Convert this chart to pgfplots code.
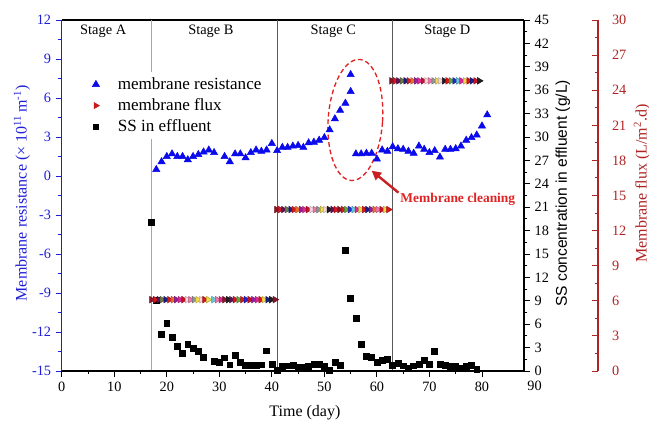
\documentclass[border=0pt]{standalone}
\usepackage{fontspec}
\setmainfont{Liberation Serif}
\setsansfont{Liberation Sans}
\usepackage{pgfplots}
\pgfplotsset{compat=1.18}
\usetikzlibrary{arrows.meta}

\definecolor{resblue}{RGB}{30,30,215}
\definecolor{markblue}{RGB}{10,10,235}
\definecolor{fluxax}{RGB}{175,35,35}
\definecolor{annred}{RGB}{225,35,35}
\definecolor{legred}{RGB}{200,25,25}
% colours that the flux markers cycle through
\definecolor{f0}{RGB}{140,20,40}
\definecolor{f1}{RGB}{220,20,30}
\definecolor{f2}{RGB}{90,20,90}
\definecolor{f3}{RGB}{110,120,70}
\definecolor{f4}{RGB}{30,30,130}
\definecolor{f5}{RGB}{210,30,30}
\definecolor{f6}{RGB}{235,110,40}
\definecolor{f7}{RGB}{150,30,160}
\definecolor{f8}{RGB}{220,40,150}
\definecolor{f9}{RGB}{200,20,40}
\definecolor{f10}{RGB}{245,215,225}
\definecolor{f11}{RGB}{240,120,170}
\definecolor{f12}{RGB}{150,150,150}
\definecolor{f13}{RGB}{240,220,70}
\definecolor{f14}{RGB}{30,30,30}
\definecolor{f15}{RGB}{90,170,60}
\definecolor{f16}{RGB}{40,40,210}
\definecolor{f17}{RGB}{100,200,220}

\newcommand\tk{\fontsize{10.7}{12}\selectfont}
\newcommand\lab{\fontsize{12}{14}\selectfont}

\begin{document}
\begin{tikzpicture}
\useasboundingbox (-46.3pt,-38.25pt) rectangle (440.45pt,278.25pt);

% membrane resistance, left axis
\begin{axis}[
    scale only axis, width=346.7pt, height=263.25pt,
    xmin=0, xmax=88, ymin=-15, ymax=12,
    axis x line*=top, axis y line*=left,
    x axis line style={-, black, line width=0.8pt},
    y axis line style={-, resblue, line width=0.8pt},
    xtick=\empty,
    ytick={-15,-12,...,12}, minor y tick num=1,
    tick align=outside, major tick length=4.5pt, minor tick length=2.5pt,
    tick style={resblue, line width=0.7pt},
    yticklabel style={font=\tk, resblue},
    /pgf/number format/assume math mode=true,
    ylabel={Membrane resistance (\texttimes{} 10\textsuperscript{11}\,m\textsuperscript{-1})},
    ylabel style={at={(axis description cs:-0.086,0.506)}, anchor=center, font=\lab, resblue},
    legend style={at={(axis description cs:0.057,0.852)}, anchor=north west, draw=none,
        fill=white, font=\fontsize{12.8}{15}\selectfont, row sep=1.4pt},
    legend cell align=left,
    legend image code/.code={
        \draw[mark repeat=2, mark phase=2, #1] plot coordinates {(0cm,0cm) (0.3cm,0cm) (0.6cm,0cm)};
        \path (0.8cm,0cm);},
]
\addplot[gray!70, line width=0.7pt, forget plot] coordinates {(17,-15) (17,12)};
\addplot[black!65, line width=0.7pt, forget plot] coordinates {(41,-15) (41,12)};
\addplot[black!65, line width=0.7pt, forget plot] coordinates {(63,-15) (63,12)};

\addplot[only marks, mark=triangle*, mark size=3.1pt, color=markblue] coordinates {
(18,0.5) (19,1.1) (20,1.5) (21,1.7) (22,1.5) (23,1.5) (24,1.25) (25,1.5)
(26,1.65) (27,1.85) (28,2.0) (29,1.8) (31,1.5) (32,1.1) (33,1.7) (34,1.7)
(35,1.4) (36,1.8) (37,2.0) (38,1.9) (39,2.0) (40,2.5) (41,1.95) (42,2.2)
(43,2.2) (44,2.3) (45,2.35) (46,2.2) (47,2.55) (48,2.6) (49,2.75) (50,2.95)
(51,3.55) (52,4.4) (53,5.05) (54,5.6) (55,6.5) (55,7.8) (56,1.7) (57,1.7)
(58,1.75) (59,1.75) (60,1.3) (61,2.0) (62,1.9) (63,2.25) (64,2.1) (65,2.05)
(66,1.9) (67,1.75) (68,2.3) (69,2.05) (70,1.8) (71,1.95) (72,1.45) (73,2.05)
(74,2.05) (75,2.1) (76,2.3) (77,2.75) (78,2.95) (79,3.15) (80,3.85) (81,4.7)
};
\addlegendentry{membrane resistance}
\addlegendimage{only marks, mark=triangle*, mark size=2.6pt, mark options={rotate=-90}, color=legred}
\addlegendentry{membrane flux}
\addlegendimage{only marks, mark=square*, mark size=2pt, black}
\addlegendentry{SS in effluent}

\node[font=\fontsize{10.8}{12}\selectfont] at (axis cs:7.9,11.1) {Stage A};
\node[font=\fontsize{10.8}{12}\selectfont] at (axis cs:28.4,11.1) {Stage B};
\node[font=\fontsize{10.8}{12}\selectfont] at (axis cs:51.7,11.1) {Stage C};
\node[font=\fontsize{10.8}{12}\selectfont] at (axis cs:73.4,11.1) {Stage D};

\draw[annred, line width=1pt, dash pattern=on 3.5pt off 2.2pt, rotate around={-4:(axis cs:55.9,4.31)}]
    (axis cs:55.9,4.31) ellipse [x radius=20.4pt, y radius=45.5pt];
\draw[annred!90!black, line width=1.8pt, -{Triangle[length=7pt,width=7pt]}]
    (axis cs:64.1,-1.28) -- (axis cs:59.0,0.41);
\node[annred, font=\bfseries\fontsize{10.1}{11}\selectfont] at (axis cs:75.4,-1.77) {Membrane cleaning};
\end{axis}

% SS in effluent, first right axis, and the time axis
\begin{axis}[
    scale only axis, width=346.7pt, height=263.25pt,
    xmin=0, xmax=88, ymin=0, ymax=45,
    axis x line*=bottom, axis y line*=right,
    x axis line style={-, black, line width=0.8pt},
    y axis line style={-, black, line width=0.8pt},
    xtick={0,10,...,80}, minor x tick num=1,
    ytick={0,3,...,45}, minor y tick num=1,
    tick align=outside, major tick length=4.5pt, minor tick length=2.5pt,
    tick style={black, line width=0.7pt},
    tick label style={font=\tk},
    /pgf/number format/assume math mode=true,
    xlabel={Time (day)},
    xlabel style={at={(axis description cs:0.526,0)}, anchor=center, yshift=-31pt, font=\lab},
    ylabel={SS concentration in effluent (g/L)},
    ylabel style={at={(axis description cs:1.084,0.506)}, anchor=center,
        font=\sffamily\fontsize{11.7}{14}\selectfont},
    clip=false,
]
\addplot[only marks, mark=square*, mark size=2.2pt, black] coordinates {
(17,19.1) (18,9.1) (19,4.7) (20,6.1) (21,4.3) (22,3.2) (23,2.3) (24,3.4)
(25,2.9) (26,2.5) (27,1.8) (29,1.2) (30,1.1) (31,1.7) (32,0.8) (33,2.0)
(34,1.1) (35,0.7) (36,0.7) (37,0.7) (38,0.8) (39,2.6) (40,0.9) (41,0.1)
(42,0.56) (43,0.68) (44,0.77) (45,0.47) (46,0.47) (47,0.56) (48,0.85) (49,0.9)
(50,0.56) (51,0.13) (52,1.11) (53,0.77) (54,15.5) (55,9.3) (56,6.8) (57,3.46)
(58,1.92) (59,1.71) (60,1.07) (61,1.41) (62,1.54) (63,0.77) (64,0.98) (65,0.68)
(66,0.34) (67,0.68) (68,0.85) (69,1.41) (70,0.9) (71,2.56) (72,0.9) (73,0.77)
(74,0.56) (75,0.64) (76,0.34) (77,0.56) (78,0.77) (79,0.21)
};
\node[anchor=north, font=\tk, yshift=-4pt] at (axis cs:90,0) {90};
\end{axis}

% membrane flux, second right axis; shifted right by 55.5pt, so its x range is shifted by the same amount
\begin{axis}[
    at={(55.5pt,0)},
    scale only axis, width=346.7pt, height=263.25pt,
    xmin=14.087, xmax=102.087, ymin=0, ymax=30,
    axis x line=none, axis y line*=right,
    y axis line style={-, fluxax, line width=0.8pt},
    ytick={0,3,...,30}, minor y tick num=1,
    tick align=inside, major tick length=4.5pt, minor tick length=2.5pt,
    tick style={fluxax, line width=0.7pt},
    yticklabel style={font=\tk, fluxax, xshift=7pt},
    /pgf/number format/assume math mode=true,
    ylabel={Membrane flux (L/m\textsuperscript{2}.d)},
    ylabel style={at={(axis description cs:1.095,0.534)}, anchor=center, font=\lab, fluxax},
]
\addplot[scatter, only marks, mark=triangle*, mark size=2.8pt, mark options={rotate=-90},
    scatter src=explicit symbolic,
    scatter/classes={
        f0={draw=f0!75!black, fill=f0}, f1={draw=f1!75!black, fill=f1},
        f2={draw=f2!75!black, fill=f2}, f3={draw=f3!75!black, fill=f3},
        f4={draw=f4!75!black, fill=f4}, f5={draw=f5!75!black, fill=f5},
        f6={draw=f6!75!black, fill=f6}, f7={draw=f7!75!black, fill=f7},
        f8={draw=f8!75!black, fill=f8}, f9={draw=f9!75!black, fill=f9},
        f10={draw=f10!75!black, fill=f10}, f11={draw=f11!75!black, fill=f11},
        f12={draw=f12!75!black, fill=f12}, f13={draw=f13!75!black, fill=f13},
        f14={draw=f14!75!black, fill=f14}, f15={draw=f15!75!black, fill=f15},
        f16={draw=f16!75!black, fill=f16}, f17={draw=f17!75!black, fill=f17}}]
table[meta=c] {
x y c
17.1 6.1 f0
17.8 6.1 f1
18.5 6.1 f2
19.1 6.1 f3
19.8 6.1 f4
20.5 6.1 f5
21.2 6.1 f6
21.8 6.1 f7
22.5 6.1 f8
23.2 6.1 f9
23.9 6.1 f10
24.5 6.1 f11
25.2 6.1 f12
25.9 6.1 f13
26.6 6.1 f10
27.2 6.1 f1
27.9 6.1 f13
28.9 6.1 f17
29.6 6.1 f11
30.3 6.1 f8
31.0 6.1 f0
31.7 6.1 f14
32.3 6.1 f2
33.0 6.1 f1
33.7 6.1 f15
34.4 6.1 f5
35.1 6.1 f16
35.8 6.1 f9
36.5 6.1 f7
37.2 6.1 f8
37.9 6.1 f1
38.5 6.1 f13
39.2 6.1 f4
39.9 6.1 f14
40.6 6.1 f0
40.9 13.8 f0
41.6 13.8 f1
42.2 13.8 f2
42.9 13.8 f3
43.6 13.8 f4
44.2 13.8 f5
44.9 13.8 f6
45.6 13.8 f7
46.2 13.8 f8
46.9 13.8 f9
47.6 13.8 f10
48.2 13.8 f11
48.9 13.8 f12
49.6 13.8 f13
50.2 13.8 f10
50.9 13.8 f14
51.6 13.8 f2
52.2 13.8 f1
52.9 13.8 f0
53.6 13.8 f5
54.2 13.8 f15
54.9 13.8 f16
55.6 13.8 f17
56.2 13.8 f8
56.9 13.8 f13
57.6 13.8 f1
58.2 13.8 f4
58.9 13.8 f7
59.6 13.8 f6
60.2 13.8 f11
60.9 13.8 f9
61.6 13.8 f13
62.2 13.8 f1
62.8 24.8 f0
63.5 24.8 f1
64.1 24.8 f2
64.8 24.8 f3
65.5 24.8 f4
66.1 24.8 f5
66.8 24.8 f6
67.5 24.8 f7
68.1 24.8 f8
68.8 24.8 f9
69.5 24.8 f10
70.1 24.8 f11
70.8 24.8 f12
71.5 24.8 f13
72.1 24.8 f10
72.8 24.8 f14
73.5 24.8 f1
74.1 24.8 f15
74.8 24.8 f16
75.5 24.8 f17
76.1 24.8 f8
76.8 24.8 f13
77.5 24.8 f1
78.1 24.8 f4
78.8 24.8 f9
79.5 24.8 f14
};
\end{axis}
\end{tikzpicture}
\end{document}
